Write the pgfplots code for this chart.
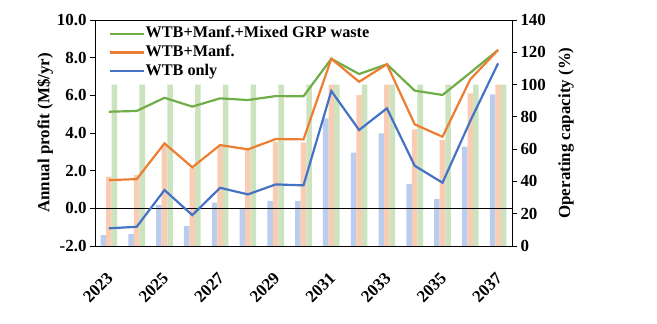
\documentclass[border=0pt]{standalone}
\usepackage{fontspec}
\setmainfont{Liberation Serif}
\usepackage{pgfplots}
\pgfplotsset{compat=1.18}
\definecolor{lgreen}{HTML}{70AD47}
\definecolor{lorange}{HTML}{ED7D31}
\definecolor{lblue}{HTML}{4472C4}
\definecolor{bgreen}{HTML}{CDE3C0}
\definecolor{borange}{HTML}{F9CDB3}
\definecolor{bblue}{HTML}{BACDEE}

% operating capacity (%), bars
\pgfplotstableread{
x blue orange green
0 6.8 43.0 100
1 7.4 44.0 100
2 25.4 63.0 100
3 12.4 48.5 100
4 26.8 62.0 100
5 23.0 59.7 100
6 27.9 64.6 100
7 27.9 64.0 100
8 79.0 100 100
9 57.8 93.5 100
10 69.8 100 100
11 38.4 72.3 100
12 29.0 65.7 100
13 61.5 94.6 100
14 94.0 100 100
}\captab

% annual profit (M$/yr), lines
\pgfplotstableread{
x green orange blue
0 5.13 1.50 -1.06
1 5.17 1.55 -0.98
2 5.87 3.45 0.97
3 5.40 2.18 -0.36
4 5.84 3.36 1.09
5 5.75 3.13 0.74
6 5.96 3.68 1.27
7 5.95 3.66 1.22
8 7.94 7.94 6.23
9 7.13 6.72 4.16
10 7.65 7.65 5.31
11 6.25 4.46 2.26
12 6.02 3.80 1.36
13 7.20 6.85 4.64
14 8.41 8.41 7.70
}\proftab

\pgfplotsset{
  base/.style={
    scale only axis, width=417bp, height=226bp,
    at={(0,0)}, anchor=south west,
    xmin=-0.5, xmax=14.5,
    tick align=outside, major tick length=5bp,
    tick style={black, line width=0.8pt},
    axis line style={black, line width=0.9pt},
    /pgf/number format/assume math mode=true,
    tick label style={font=\fontsize{17}{19}\selectfont\bfseries},
    label style={font=\fontsize{17}{20}\selectfont\bfseries},
  }
}

\begin{document}
\begin{tikzpicture}
\useasboundingbox (-95bp,-78bp) rectangle (562bp,246bp);

\begin{axis}[
  base,
  ymin=0, ymax=140, ytick={0,20,...,140},
  axis y line*=right, axis x line=none,
  ylabel={Operating capacity (\%)},
  ylabel style={at={(rel axis cs:1.13,0.5)}, anchor=center},
  ybar=0pt, bar width=0.2,
]
\addplot[draw=none, fill=bblue] table[x=x, y=blue] {\captab};
\addplot[draw=none, fill=borange] table[x=x, y=orange] {\captab};
\addplot[draw=none, fill=bgreen] table[x=x, y=green] {\captab};
\end{axis}

\begin{axis}[
  base,
  ymin=-2, ymax=10, ytick={-2,0,...,10},
  ytick pos=left,
  yticklabel={\pgfmathprintnumber[fixed, fixed zerofill, precision=1]{\tick}},
  xtick={0,2,...,14},
  xticklabels={2023,2025,2027,2029,2031,2033,2035,2037},
  xtick pos=bottom,
  x tick style={draw=none},
  xticklabel style={xshift=-3bp, yshift=-20bp, rotate=45, anchor=north east, inner sep=0pt},
  ylabel={Annual profit (M\$/yr)},
  ylabel style={at={(rel axis cs:-0.12,0.5)}, anchor=center},
  legend style={at={(rel axis cs:0.025,0.985)}, anchor=north west, draw=none, fill=none,
    font=\fontsize{16.3}{18}\selectfont\bfseries, row sep=2bp,
    nodes={inner sep=0.8bp, text height=11.5bp, text depth=3.5bp}},
  legend cell align=left,
  legend image code/.code={\draw[#1] (0bp,0bp) -- (34bp,0bp);},
]
\draw[black, line width=0.9pt] (axis cs:-0.5,0) -- (axis cs:14.5,0);
\addplot[lgreen, line width=2.2pt] table[x=x, y=green] {\proftab};
\addlegendentry{WTB+Manf.+Mixed GRP waste}
\addplot[lorange, line width=2.2pt] table[x=x, y=orange] {\proftab};
\addlegendentry{WTB+Manf.}
\addplot[lblue, line width=2.2pt] table[x=x, y=blue] {\proftab};
\addlegendentry{WTB only}
\end{axis}
\end{tikzpicture}
\end{document}
